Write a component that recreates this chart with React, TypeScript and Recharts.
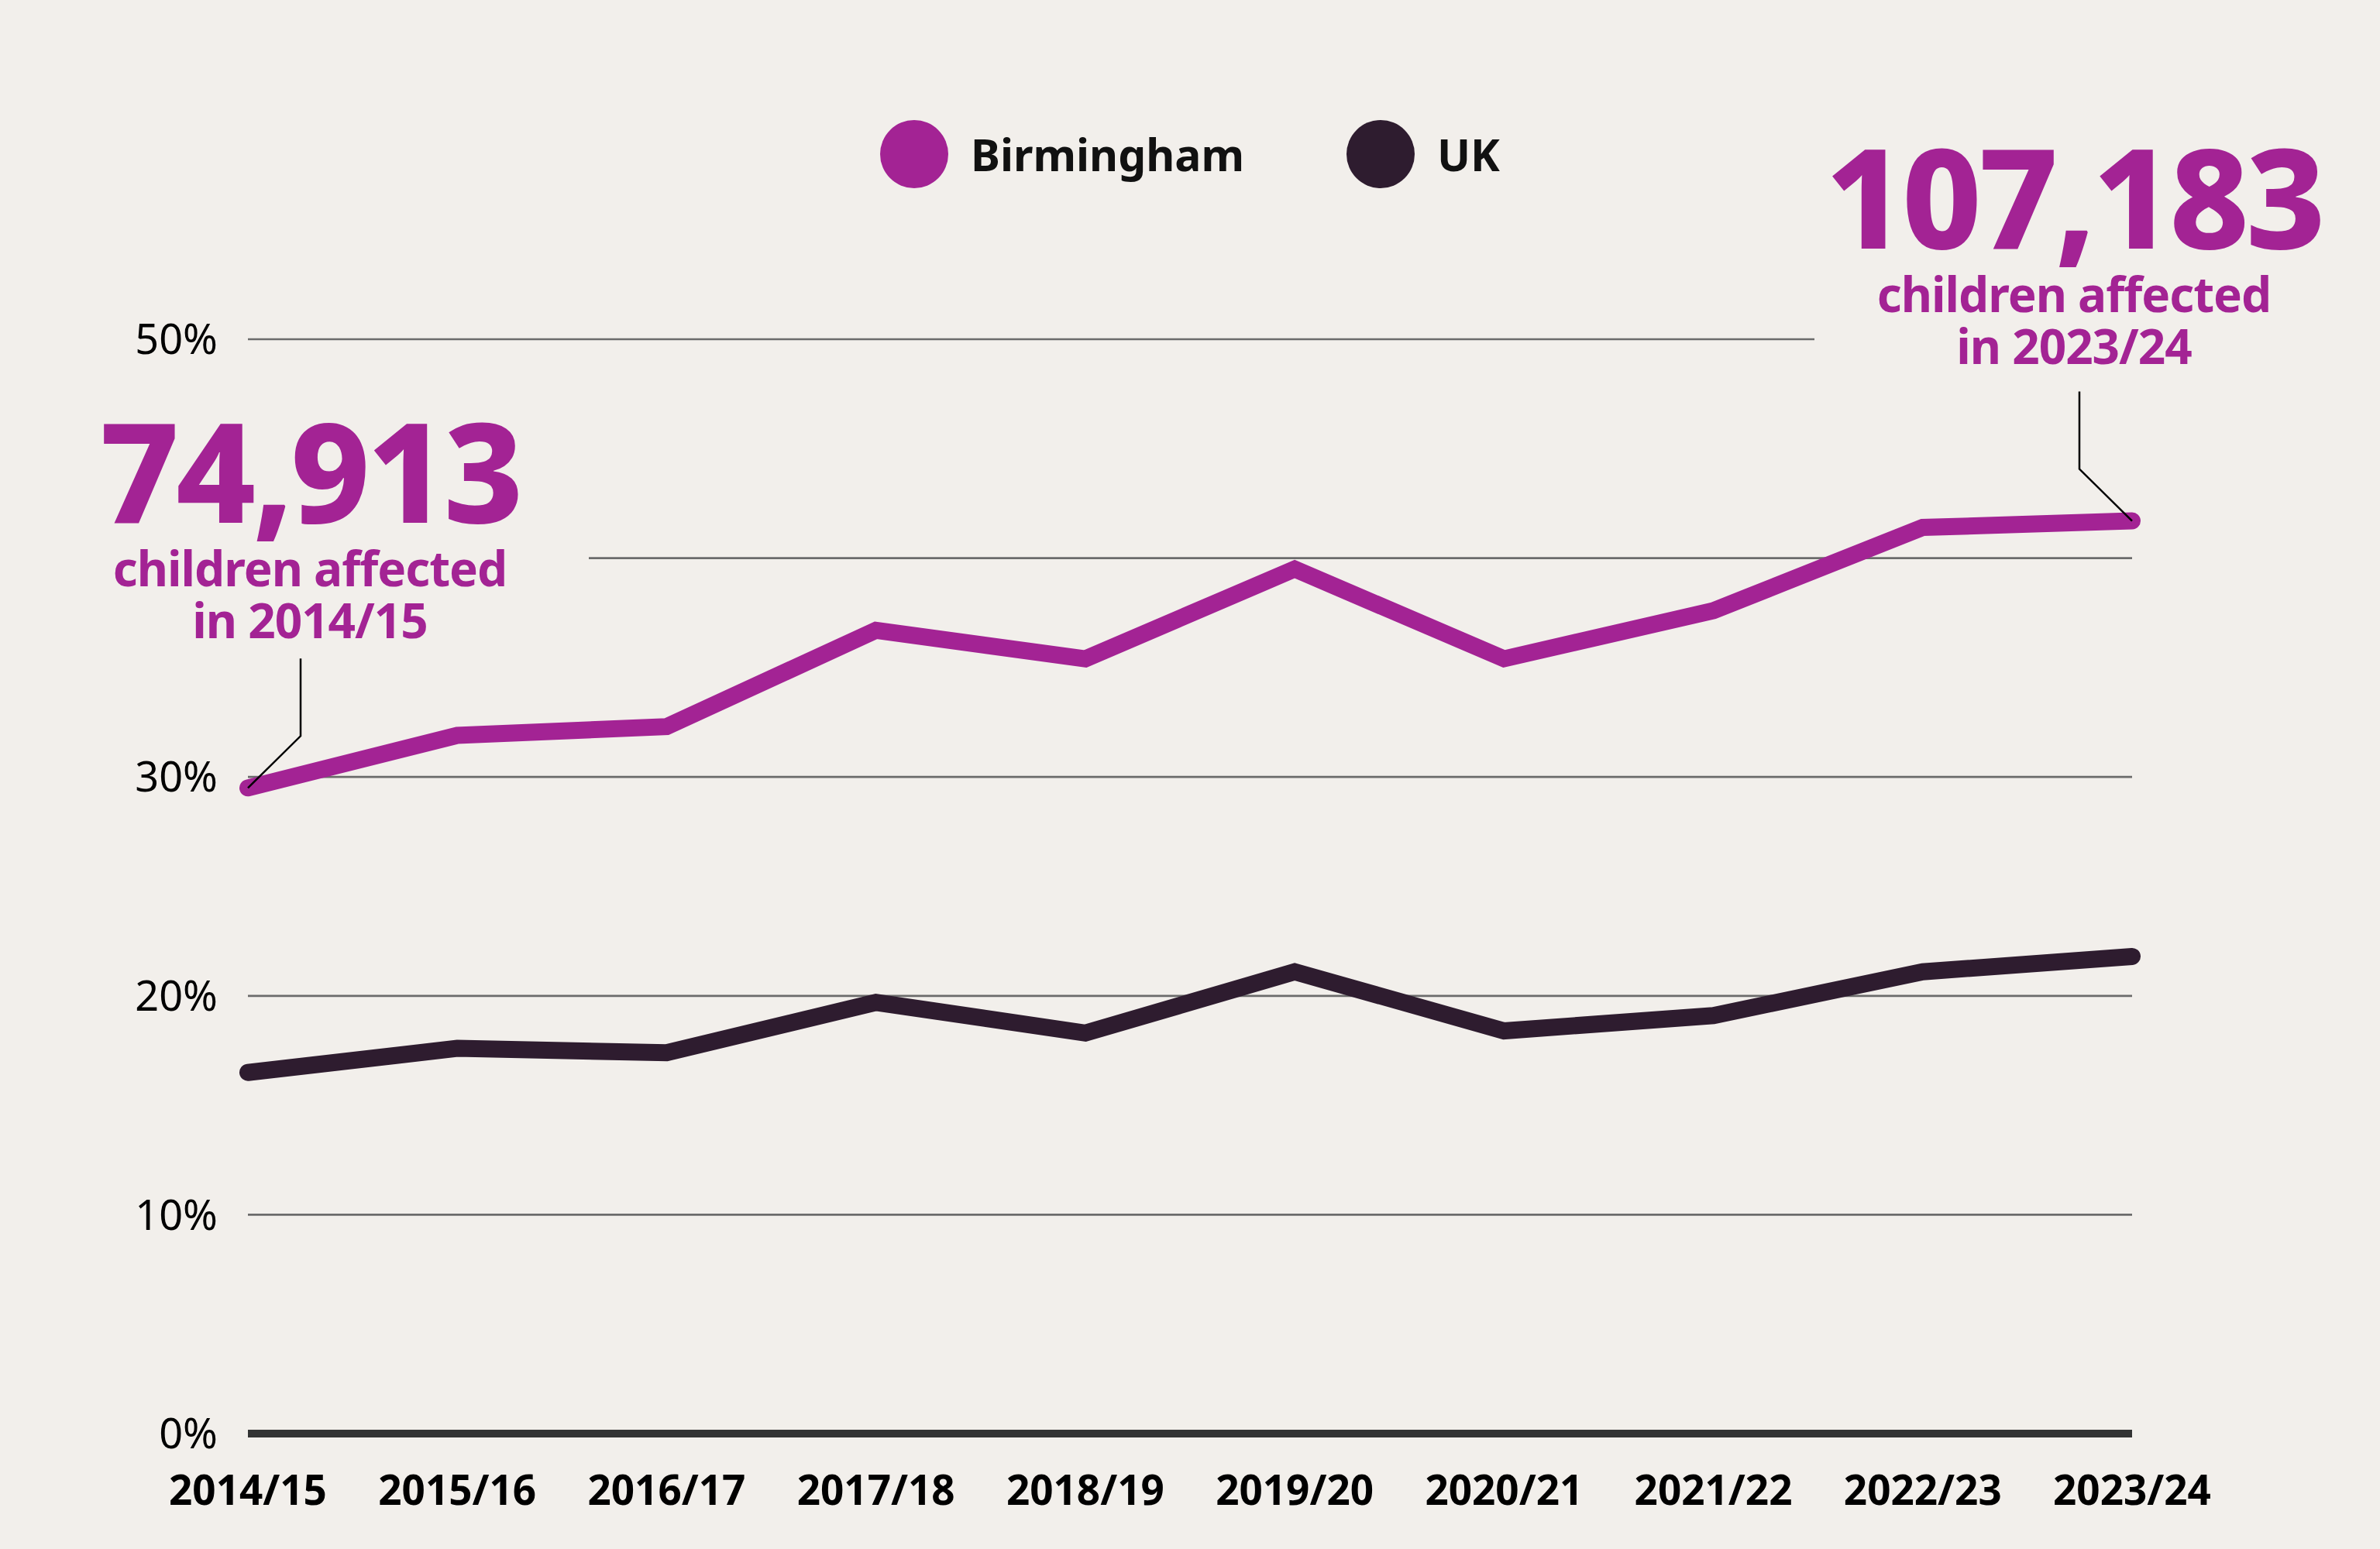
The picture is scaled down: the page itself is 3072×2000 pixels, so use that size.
import React from "react";
import {
  LineChart,
  Line,
  XAxis,
  YAxis,
  CartesianGrid,
  ReferenceLine,
  Legend,
} from "recharts";

// values (share of children, %)
const years = [
  "2014/15",
  "2015/16",
  "2016/17",
  "2017/18",
  "2018/19",
  "2019/20",
  "2020/21",
  "2021/22",
  "2022/23",
  "2023/24",
];
const birmingham = [29.5, 31.9, 32.3, 36.7, 35.4, 39.5, 35.4, 37.6, 41.4, 41.7];
const uk = [16.5, 17.6, 17.4, 19.7, 18.3, 21.1, 18.4, 19.1, 21.1, 21.8];
const yTicks = [0, 10, 20, 30, 40, 50];
// the 40% label sits under the left callout in the original, so it isn't shown
const hiddenTickLabels = [40];

const callouts = [
  { index: 0, count: "74,913", year: "2014/15" },
  { index: 9, count: "107,183", year: "2023/24" },
];

const data = years.map((year, i) => ({
  year,
  birmingham: birmingham[i],
  uk: uk[i],
}));

const BG = "#f2efeb";
const PURPLE = "#a32394";
const DARK = "#2e1c2f";
const FONT = "'Noto Sans', 'DejaVu Sans', sans-serif";

const W = 3072;
const H = 2000;

// thin black pointer from a callout down to its data point
function renderLeader(props: any) {
  const { x, y, index } = props;
  const c = callouts.find((k) => k.index === index);
  if (!c || x == null || y == null) return <g key={`lead-${index}`} />;
  const d = index === 0 ? 1 : -1;
  const pts = `${x + d * 68},${y - 167} ${x + d * 68},${y - 67} ${x},${y}`;
  return (
    <polyline
      key={`lead-${index}`}
      points={pts}
      fill="none"
      stroke="#000"
      strokeWidth={2.5}
    />
  );
}

function LegendContent(props: any) {
  const items = (props.payload || []).map((p: any) => ({
    name: p.value,
    color: p.color,
  }));
  return (
    <div
      style={{
        display: "flex",
        justifyContent: "center",
        alignItems: "center",
        height: 88,
        fontFamily: FONT,
      }}
    >
      {items.map((it: any, i: number) => (
        <div
          key={it.name}
          style={{
            display: "flex",
            alignItems: "center",
            marginLeft: i === 0 ? 0 : 132,
          }}
        >
          <span
            style={{
              width: 88,
              height: 88,
              borderRadius: "50%",
              background: it.color,
              display: "inline-block",
              marginRight: 29,
            }}
          />
          <span style={{ fontSize: 57, fontWeight: 700, color: "#111" }}>
            {it.name}
          </span>
        </div>
      ))}
    </div>
  );
}

function Callout({
  cx,
  base,
  count,
  year,
}: {
  cx: number;
  base: number;
  count: string;
  year: string;
}) {
  return (
    <g fill={PURPLE} fontFamily={FONT} fontWeight={700} textAnchor="middle">
      <text x={cx} y={base} fontSize={178} fontWeight={800} letterSpacing={-4}>
        {count}
      </text>
      <text x={cx} y={base + 82} fontSize={62} letterSpacing={-1}>
        children affected
      </text>
      <text x={cx} y={base + 149} fontSize={62} letterSpacing={-1}>
        in {year}
      </text>
    </g>
  );
}

export default function App() {
  return (
    <div
      style={{
        position: "relative",
        width: W,
        height: H,
        background: BG,
        fontFamily: FONT,
      }}
    >
      <style>{"body{margin:0;background:" + BG + "}"}</style>
      <LineChart
        width={W}
        height={H}
        data={data}
        margin={{ top: 438, right: 320, bottom: 49, left: 100 }}
      >
        <CartesianGrid vertical={false} stroke="#6b6b6b" strokeWidth={2.7} />
        <XAxis
          dataKey="year"
          interval={0}
          axisLine={false}
          tickLine={false}
          tickSize={0}
          tickMargin={54}
          height={100}
          tick={{ fontSize: 53, fontWeight: 700, fill: "#000", fontFamily: FONT }}
        />
        <YAxis
          domain={[0, 50]}
          ticks={yTicks}
          axisLine={false}
          tickLine={false}
          tickSize={0}
          tickMargin={39}
          width={220}
          tickFormatter={(v) => (hiddenTickLabels.includes(v) ? "" : `${v}%`)}
          tick={{ fontSize: 54, fill: "#000", fontFamily: FONT }}
        />
        <ReferenceLine y={0} stroke="#333" strokeWidth={10} />
        <Legend
          verticalAlign="middle"
          align="center"
          layout="horizontal"
          wrapperStyle={{ top: 155, left: 0, width: W }}
          content={(p) => <LegendContent {...p} />}
        />
        <Line
          type="linear"
          dataKey="birmingham"
          name="Birmingham"
          stroke={PURPLE}
          strokeWidth={22}
          strokeLinecap="round"
          dot={false}
          activeDot={false}
          label={renderLeader}
          isAnimationActive={false}
        />
        <Line
          type="linear"
          dataKey="uk"
          name="UK"
          stroke={DARK}
          strokeWidth={22}
          strokeLinecap="round"
          dot={false}
          activeDot={false}
          isAnimationActive={false}
        />
      </LineChart>
      <svg
        width={W}
        height={H}
        style={{ position: "absolute", top: 0, left: 0, pointerEvents: "none" }}
      >
        {/* callout boxes cut the gridlines that run behind them */}
        <rect x={100} y={515} width={660} height={330} fill={BG} />
        <rect x={2342} y={150} width={730} height={355} fill={BG} />
        <Callout cx={400} base={675} count={callouts[0].count} year={callouts[0].year} />
        <Callout cx={2677} base={321} count={callouts[1].count} year={callouts[1].year} />
      </svg>
    </div>
  );
}
